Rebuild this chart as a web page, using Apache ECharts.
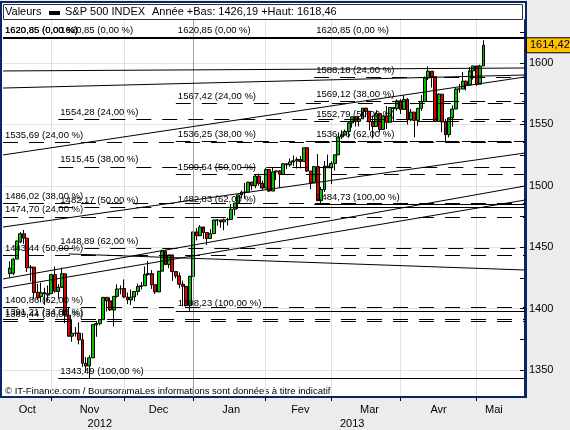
<!DOCTYPE html>
<html>
<head>
<meta charset="utf-8">
<script src="https://cdn.jsdelivr.net/npm/echarts@6/dist/echarts.min.js"></script>
<style>
  html, body { margin: 0; padding: 0; background: #ececec; }
  #chart { width: 570px; height: 430px; }
</style>
</head>
<body>
<div id="chart"></div>
<script>
// empty slots on both sides of the price history
const padBefore = ['2012-10-10', '2012-10-11'];
const padAfter = ['2013-05-06', '2013-05-07', '2013-05-08', '2013-05-09', '2013-05-10', '2013-05-13',
  '2013-05-14', '2013-05-15', '2013-05-16', '2013-05-17', '2013-05-20', '2013-05-21'];

const dates = [
  '2012-10-12', '2012-10-15', '2012-10-16', '2012-10-17', '2012-10-18', '2012-10-19', '2012-10-22', '2012-10-23', '2012-10-24', '2012-10-25', '2012-10-26', '2012-10-31',
  '2012-11-01', '2012-11-02', '2012-11-05', '2012-11-06', '2012-11-07', '2012-11-08', '2012-11-09', '2012-11-12', '2012-11-13', '2012-11-14', '2012-11-15', '2012-11-16', '2012-11-19', '2012-11-20', '2012-11-21', '2012-11-23', '2012-11-26', '2012-11-27', '2012-11-28', '2012-11-29', '2012-11-30',
  '2012-12-03', '2012-12-04', '2012-12-05', '2012-12-06', '2012-12-07', '2012-12-10', '2012-12-11', '2012-12-12', '2012-12-13', '2012-12-14', '2012-12-17', '2012-12-18', '2012-12-19', '2012-12-20', '2012-12-21', '2012-12-24', '2012-12-26', '2012-12-27', '2012-12-28', '2012-12-31',
  '2013-01-02', '2013-01-03', '2013-01-04', '2013-01-07', '2013-01-08', '2013-01-09', '2013-01-10', '2013-01-11', '2013-01-14', '2013-01-15', '2013-01-16', '2013-01-17', '2013-01-18', '2013-01-22', '2013-01-23', '2013-01-24', '2013-01-25', '2013-01-28', '2013-01-29', '2013-01-30', '2013-01-31',
  '2013-02-01', '2013-02-04', '2013-02-05', '2013-02-06', '2013-02-07', '2013-02-08', '2013-02-11', '2013-02-12', '2013-02-13', '2013-02-14', '2013-02-15', '2013-02-19', '2013-02-20', '2013-02-21', '2013-02-22', '2013-02-25', '2013-02-26', '2013-02-27', '2013-02-28',
  '2013-03-01', '2013-03-04', '2013-03-05', '2013-03-06', '2013-03-07', '2013-03-08', '2013-03-11', '2013-03-12', '2013-03-13', '2013-03-14', '2013-03-15', '2013-03-18', '2013-03-19', '2013-03-20', '2013-03-21', '2013-03-22', '2013-03-25', '2013-03-26', '2013-03-27', '2013-03-28',
  '2013-04-01', '2013-04-02', '2013-04-03', '2013-04-04', '2013-04-05', '2013-04-08', '2013-04-09', '2013-04-10', '2013-04-11', '2013-04-12', '2013-04-15', '2013-04-16', '2013-04-17', '2013-04-18', '2013-04-19', '2013-04-22', '2013-04-23', '2013-04-24', '2013-04-25', '2013-04-26', '2013-04-29', '2013-04-30',
  '2013-05-01', '2013-05-02', '2013-05-03'
];
const opens = [
  1428.6, 1428.75, 1440.31, 1454.22, 1460.94, 1457.34, 1433.21, 1433.74, 1413.20, 1409.74, 1412.97, 1410.99,
  1412.20, 1427.59, 1414.02, 1417.26, 1428.27, 1394.53, 1377.55, 1379.86, 1380.03, 1374.64, 1355.41, 1353.36, 1359.88, 1386.82, 1387.79, 1391.03, 1409.15, 1406.29, 1398.77, 1409.96, 1415.95,
  1416.34, 1409.46, 1407.05, 1409.43, 1413.95, 1418.07, 1418.55, 1427.84, 1428.48, 1419.45, 1413.54, 1430.47, 1446.79, 1435.81, 1443.67, 1430.15, 1426.66, 1419.83, 1418.10, 1402.43,
  1426.19, 1462.42, 1459.37, 1466.47, 1461.89, 1457.15, 1461.02, 1472.12, 1472.05, 1470.67, 1472.33, 1472.63, 1480.95, 1485.98, 1492.56, 1494.81, 1494.82, 1502.96, 1500.18, 1507.84, 1501.96,
  1498.11, 1513.17, 1495.71, 1511.29, 1512.12, 1509.39, 1517.93, 1517.01, 1519.43, 1520.33, 1521.38, 1519.79, 1530.94, 1511.95, 1502.42, 1515.60, 1487.85, 1496.94, 1515.99,
  1514.68, 1518.20, 1525.20, 1539.79, 1541.46, 1544.26, 1551.15, 1556.22, 1552.48, 1554.52, 1563.21, 1560.70, 1552.10, 1548.34, 1558.71, 1545.90, 1556.89, 1551.69, 1563.75, 1562.86,
  1569.18, 1562.17, 1570.25, 1553.69, 1559.98, 1553.26, 1563.11, 1568.61, 1587.73, 1593.30, 1588.84, 1552.36, 1574.57, 1552.03, 1541.61, 1555.25, 1562.50, 1578.78, 1578.78, 1585.16, 1582.34, 1593.58,
  1597.55, 1582.77, 1597.60
];
const closes = [
  1433.0, 1440.13, 1454.92, 1460.91, 1457.34, 1433.19, 1433.82, 1413.11, 1408.75, 1412.97, 1411.94, 1412.16,
  1427.59, 1414.20, 1417.26, 1428.39, 1394.53, 1377.51, 1379.85, 1380.03, 1374.53, 1355.49, 1353.33, 1359.88, 1386.89, 1387.81, 1391.03, 1409.15, 1406.29, 1398.94, 1409.93, 1415.95, 1416.18,
  1409.46, 1407.05, 1409.28, 1413.94, 1418.07, 1418.55, 1427.84, 1428.48, 1419.45, 1413.58, 1430.36, 1446.79, 1435.81, 1443.69, 1430.15, 1426.66, 1419.83, 1418.10, 1402.43, 1426.19,
  1462.42, 1459.37, 1466.47, 1461.89, 1457.15, 1461.02, 1472.12, 1472.05, 1470.68, 1472.34, 1472.63, 1480.94, 1485.98, 1492.56, 1494.81, 1494.82, 1502.96, 1500.18, 1507.84, 1501.96, 1498.11,
  1513.17, 1495.71, 1511.29, 1512.12, 1509.39, 1517.93, 1517.01, 1519.43, 1520.33, 1521.38, 1519.79, 1530.94, 1511.95, 1502.42, 1515.60, 1487.85, 1496.94, 1515.99, 1514.68,
  1518.20, 1525.20, 1539.79, 1541.46, 1544.26, 1551.18, 1556.22, 1552.48, 1554.52, 1563.23, 1560.70, 1552.10, 1548.34, 1558.71, 1545.80, 1556.89, 1551.69, 1563.77, 1562.85, 1569.19,
  1562.17, 1570.25, 1553.69, 1559.98, 1553.28, 1563.07, 1568.61, 1587.73, 1593.37, 1588.85, 1552.36, 1574.57, 1552.01, 1541.61, 1555.25, 1562.50, 1578.78, 1578.79, 1585.16, 1582.24, 1593.61, 1597.57,
  1582.70, 1597.59, 1614.42
];
const lows = [
  1425.5, 1427.24, 1440.31, 1453.35, 1452.63, 1429.85, 1422.06, 1407.56, 1407.10, 1405.14, 1403.28, 1405.95,
  1412.20, 1412.91, 1408.13, 1417.26, 1388.14, 1377.51, 1373.03, 1377.19, 1370.84, 1352.50, 1348.05, 1343.49, 1359.88, 1377.04, 1386.39, 1391.03, 1397.68, 1398.03, 1385.43, 1409.04, 1411.63,
  1408.46, 1403.65, 1403.00, 1405.93, 1410.90, 1415.64, 1418.55, 1426.76, 1416.00, 1411.88, 1413.54, 1430.47, 1435.80, 1432.82, 1422.58, 1424.66, 1416.43, 1401.80, 1401.58, 1398.23,
  1426.19, 1455.53, 1458.99, 1456.62, 1451.64, 1457.15, 1461.02, 1467.58, 1465.69, 1463.76, 1467.60, 1472.63, 1475.81, 1481.16, 1489.90, 1489.46, 1494.82, 1496.33, 1498.09, 1500.11, 1496.76,
  1498.11, 1495.02, 1495.71, 1504.71, 1498.49, 1509.39, 1513.61, 1515.61, 1515.93, 1514.02, 1514.14, 1519.79, 1511.41, 1497.29, 1502.42, 1487.85, 1484.73, 1494.88, 1514.46,
  1501.48, 1512.29, 1525.20, 1538.11, 1541.46, 1539.22, 1547.36, 1548.24, 1548.25, 1554.52, 1555.74, 1545.13, 1538.57, 1548.34, 1543.55, 1545.90, 1546.22, 1551.69, 1551.90, 1561.08,
  1558.47, 1562.17, 1549.80, 1552.52, 1539.50, 1548.63, 1560.92, 1568.61, 1586.17, 1579.97, 1552.28, 1552.36, 1543.69, 1536.03, 1539.40, 1548.19, 1562.50, 1575.80, 1578.78, 1577.56, 1582.34, 1586.50,
  1581.28, 1582.77, 1597.60
];
const highs = [
  1438.4, 1441.31, 1455.51, 1462.20, 1464.02, 1457.34, 1435.46, 1433.74, 1420.04, 1421.12, 1417.09, 1418.76,
  1428.35, 1434.27, 1419.90, 1433.38, 1428.27, 1401.23, 1391.39, 1384.87, 1388.81, 1380.13, 1360.62, 1362.03, 1386.89, 1389.77, 1391.25, 1409.16, 1409.15, 1409.01, 1410.31, 1419.70, 1418.86,
  1423.73, 1413.14, 1415.56, 1413.95, 1420.34, 1421.64, 1434.27, 1438.59, 1431.36, 1419.45, 1430.67, 1448.00, 1447.75, 1443.70, 1443.67, 1430.15, 1429.42, 1422.80, 1418.10, 1426.74,
  1462.43, 1465.47, 1467.94, 1466.47, 1461.89, 1464.73, 1472.30, 1472.75, 1472.05, 1473.31, 1473.96, 1485.16, 1485.98, 1492.56, 1496.13, 1502.27, 1503.26, 1503.23, 1509.35, 1509.94, 1504.19,
  1514.41, 1513.17, 1514.96, 1512.53, 1512.90, 1518.31, 1518.31, 1522.29, 1524.69, 1523.14, 1524.24, 1530.94, 1530.94, 1511.95, 1515.64, 1525.84, 1498.99, 1520.08, 1525.34,
  1519.99, 1525.27, 1543.47, 1545.25, 1545.78, 1552.48, 1556.27, 1556.77, 1556.39, 1563.32, 1563.62, 1560.70, 1557.25, 1561.56, 1558.71, 1557.74, 1564.91, 1563.95, 1564.07, 1570.28,
  1570.57, 1573.66, 1571.47, 1562.60, 1559.98, 1563.07, 1573.89, 1589.07, 1597.35, 1593.30, 1588.84, 1575.35, 1574.57, 1554.38, 1555.89, 1565.55, 1579.58, 1583.00, 1592.64, 1585.78, 1596.65, 1597.57,
  1597.55, 1598.60, 1618.46
];

const monthNames = ['Oct', 'Nov', 'Dec', 'Jan', 'Fev', 'Mar', 'Avr', 'Mai'];
const monthLabelAt = ['2012-10-19', '2012-11-16', '2012-12-17', '2013-01-17', '2013-02-15', '2013-03-18', '2013-04-16', '2013-05-08'];
const yearNames = ['2012', '2013'];
const yearLabelAt = ['2012-11-21', '2013-03-11'];
const yLabels = [1350, 1400, 1450, 1500, 1550, 1600];
const yTicks = [1350, 1375, 1400, 1425, 1450, 1475, 1500, 1525, 1550, 1575, 1600, 1625];
const lastClose = 1614.42;

// retracement sets: start date + [level, percent]
const fibStart = ['2012-10-10', '2012-10-10', '2012-11-05', '2012-12-24', '2013-02-22'];
const fibD1 = [[1620.85, 0], [1535.69, 24], [1486.02, 38], [1443.44, 50], [1400.86, 62]];
const fibD2 = [[1620.85, 0], [1474.70, 24], [1391.21, 34], [1389.44, 38]];
const fibA = [[1620.85, 0], [1554.28, 24], [1515.45, 38], [1482.17, 50], [1448.89, 62], [1343.49, 100]];
const fibB = [[1620.85, 0], [1567.42, 24], [1536.25, 38], [1509.54, 50], [1482.83, 62], [1398.23, 100]];
const fibC = [[1620.85, 0], [1588.18, 24], [1569.12, 38], [1552.79, 50], [1536.46, 62], [1484.73, 100]];

// trend lines: start date, start value, end value (end = last slot)
const trendFrom = ['2012-10-10', '2012-10-10', '2012-10-10', '2012-10-10', '2012-10-10', '2012-10-10', '2012-11-08'];
const trendFromVal = [1593.5, 1579.6, 1525.1, 1466.4, 1424.1, 1416.8, 1444.5];
const trendToVal = [1595.9, 1590.2, 1588.6, 1526.7, 1499.8, 1488.4, 1431.4];

const categories = padBefore.concat(dates, padAfter);
const lastCat = categories[categories.length - 1];
const candles = categories.map(function (d) {
  const i = dates.indexOf(d);
  return i < 0 ? '-' : [opens[i], closes[i], lows[i], highs[i]];
});
const monthStart = function (idx) {
  return idx > 0 && categories[idx].slice(0, 7) !== categories[idx - 1].slice(0, 7);
};
const fmt = function (v) { return v.toFixed(2).replace('.', ','); };

const markItems = [];
[fibD1, fibD2, fibA, fibB, fibC].forEach(function (set, s) {
  set.forEach(function (lv) {
    const solid = lv[1] === 0 || lv[1] === 100;
    markItems.push([
      {
        coord: [fibStart[s], lv[0]],
        lineStyle: { type: solid ? 'solid' : [15, 11], width: lv[1] === 0 ? 2 : 1 },
        label: { formatter: fmt(lv[0]) + ' (' + fmt(lv[1]) + ' %)' }
      },
      { coord: [lastCat, lv[0]] }
    ]);
  });
});
trendFrom.forEach(function (d, i) {
  markItems.push([
    { coord: [d, trendFromVal[i]], lineStyle: { type: 'solid', width: 1 }, label: { show: false } },
    { coord: [lastCat, trendToVal[i]] }
  ]);
});

const chart = echarts.init(document.getElementById('chart'));
const axisFont = { fontFamily: 'Liberation Sans', fontSize: 11, color: '#000' };

chart.setOption({
  animation: false,
  backgroundColor: '#ececec',
  grid: { left: 3, top: 20, width: 522, height: 377, outerBoundsMode: 'none' },
  xAxis: [{
    type: 'category',
    data: categories,
    boundaryGap: false,
    position: 'bottom',
    axisLine: { lineStyle: { color: '#0a246a', width: 2 } },
    axisTick: { interval: monthStart, length: 4, lineStyle: { color: '#000' } },
    axisLabel: Object.assign({
      interval: function (i, v) { return monthLabelAt.indexOf(v) >= 0; },
      formatter: function (v) { return monthNames[monthLabelAt.indexOf(v)]; },
      margin: 7
    }, axisFont),
    splitLine: { show: true, interval: monthStart, lineStyle: { color: '#e2e2e2' } }
  }, {
    type: 'category',
    data: categories,
    boundaryGap: false,
    position: 'bottom',
    axisLine: { show: false },
    axisTick: { show: false },
    splitLine: { show: false },
    axisLabel: Object.assign({
      interval: function (i, v) { return yearLabelAt.indexOf(v) >= 0; },
      formatter: function (v) { return yearNames[yearLabelAt.indexOf(v)]; },
      margin: 21
    }, axisFont)
  }],
  yAxis: [{
    type: 'value',
    position: 'right',
    min: 1328,
    max: 1635,
    axisLine: { show: true, lineStyle: { color: '#0a246a', width: 2 } },
    axisTick: { show: false, customValues: yLabels },
    axisLabel: Object.assign({ customValues: yLabels, margin: 4, formatter: function (v) { return String(v); } }, axisFont),
    splitLine: { show: true, lineStyle: { color: '#e2e2e2' } }
  }, {
    type: 'value',
    position: 'right',
    min: 1328,
    max: 1635,
    axisLine: { show: false },
    axisTick: { show: true, inside: true, length: 5, customValues: yTicks, lineStyle: { color: '#000' } },
    axisLabel: { show: false },
    splitLine: { show: false }
  }],
  series: [{
    type: 'line',
    data: [],
    z: 1,
    markLine: {
      silent: true,
      symbol: ['none', 'none'],
      label: { show: false },
      lineStyle: { color: '#a0a0a0', type: 'solid', width: 1 },
      data: [{ xAxis: '2013-01-02' }]
    }
  }, {
    name: 'S&P 500 INDEX',
    type: 'candlestick',
    data: candles,
    barWidth: 3.4,
    z: 2,
    itemStyle: {
      color: '#00c000', color0: '#e00000',
      borderColor: '#000', borderColor0: '#000', borderWidth: 1
    }
  }, {
    type: 'line',
    data: [],
    z: 3,
    clip: false,
    markLine: {
      silent: true,
      symbol: ['none', 'none'],
      lineStyle: { color: '#000' },
      label: {
        show: true, position: 'insideStartTop', distance: [2, 2],
        color: '#000', fontFamily: 'Liberation Sans', fontSize: 9.5
      },
      data: markItems
    }
  }, {
    type: 'line',
    data: [],
    z: 4,
    clip: false,
    markLine: {
      silent: true,
      symbol: ['none', 'none'],
      lineStyle: { width: 0, color: 'rgba(0,0,0,0)' },
      label: {
        show: true, position: 'end', distance: 2, formatter: fmt(lastClose), opacity: 1,
        backgroundColor: '#ffc000', borderColor: '#000', borderWidth: 1,
        padding: [2, 3, 1, 3], color: '#000', fontFamily: 'Liberation Sans', fontSize: 11
      },
      data: [{ yAxis: lastClose }]
    }
  }],
  graphic: [
    { type: 'rect', z: -10, silent: true, shape: { x: 1, y: 2, width: 525, height: 395 }, style: { fill: '#fff', stroke: '#0a246a', lineWidth: 2 } },
    { type: 'rect', silent: true, shape: { x: 3.5, y: 4.5, width: 519, height: 15 }, style: { fill: '#fff', stroke: '#303030', lineWidth: 1 } },
    { type: 'text', x: 5, y: 12, style: { text: 'Valeurs', font: '11px "Liberation Sans"', fill: '#000', verticalAlign: 'middle' } },
    { type: 'rect', shape: { x: 49, y: 11, width: 11, height: 4 }, style: { fill: '#000' } },
    { type: 'text', x: 65, y: 12, style: { text: 'S&P 500 INDEX', font: '11px "Liberation Sans"', fill: '#000', verticalAlign: 'middle' } },
    { type: 'text', x: 152, y: 12, style: { text: 'Année +Bas: 1426,19 +Haut: 1618,46', font: '11px "Liberation Sans"', fill: '#000', verticalAlign: 'middle' } },
    { type: 'text', x: 5, y: 391, style: { text: '© IT-Finance.com / BoursoramaLes informations sont données à titre indicatif', font: '9.5px "Liberation Sans"', fill: '#000', verticalAlign: 'middle' } }
  ]
});
</script>
</body>
</html>
